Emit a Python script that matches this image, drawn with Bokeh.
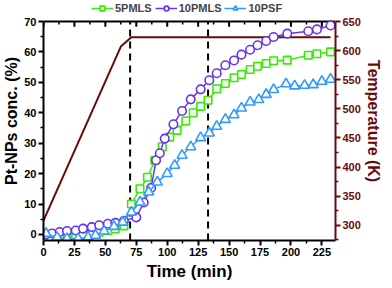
from bokeh.plotting import figure
from bokeh.models import Range1d, LinearAxis, Legend, LegendItem, FixedTicker
from bokeh.embed import file_html
from bokeh.resources import INLINE

# ---- data ----
pm5_t = [1, 6, 13, 19, 26, 32, 39, 45, 52, 58, 65, 71, 78, 84, 90, 96, 102, 108, 115, 121, 127, 133,
         140, 147, 154, 160, 167, 173, 180, 186, 197, 214, 221, 232]
pm5_v = [-1.5, -1.5, -1.2, -1.0, -0.7, -0.3, 0.2, 0.7, 1.2, 1.8, 2.8, 10.0, 15.0, 18.8, 24.3, 28.8, 32.0,
         34.2, 37.3, 40.0, 42.1, 44.1, 47.9, 49.6, 51.5, 52.6, 54.2, 55.3, 56.2, 57.1, 57.3, 58.9, 59.4, 60.0]

pm10_t = [2, 7, 13, 19, 26, 32, 39, 45, 52, 58, 65, 75, 81, 87, 91, 94, 98, 105, 112, 119, 127, 134,
          140, 147, 154, 160, 167, 173, 180, 186, 197, 214, 221, 232]
pm10_v = [0.0, 0.3, 0.8, 1.1, 1.3, 1.9, 2.4, 3.0, 3.5, 3.8, 4.5, 5.6, 10.5, 15.3, 24.4, 26.7, 31.5, 36.2,
          40.6, 44.4, 47.7, 50.7, 53.0, 55.6, 57.2, 59.1, 60.7, 62.2, 63.6, 64.9, 66.0, 66.8, 67.4, 68.7]

psf_t = [2, 11, 19, 28, 36, 42, 49, 57, 64, 71, 78, 85, 92, 100, 106, 112, 119, 127, 134, 140, 147,
         154, 160, 167, 174, 180, 186, 196, 203, 211, 218, 225, 232]
psf_v = [0.3, -1.0, -1.4, -1.4, -0.9, -0.3, 1.1, 2.6, 4.0, 7.3, 10.6, 13.9, 17.2, 20.0, 22.7, 26.0,
         28.8, 31.8, 33.3, 35.5, 37.8, 39.3, 41.5, 43.5, 44.3, 46.0, 47.6, 49.5, 48.8, 49.0, 49.2, 50.3, 51.0]

temp_t = [0, 62.5, 71, 232]
temp_K = [308, 607, 623, 623]

x_ticks = [0, 25, 50, 75, 100, 125, 150, 175, 200, 225]
y_ticks = [0, 10, 20, 30, 40, 50, 60, 70]
t_ticks = [300, 350, 400, 450, 500, 550, 600, 650]
dash_times = [70, 133]

X_MIN, X_MAX = 0, 236
Y_MIN, Y_MAX = -2, 70
T_MIN, T_MAX = 274, 650

GREEN = "#33ee00"
PURPLE = "#6633ee"
BLUE = "#3399ff"
DARKRED = "#6b0a0a"
FONT = "Liberation Sans"

W, H = 384, 284
BL, BR, BT, BB = 40, 46, 1, 44
FH = H - BT - BB
GAP = 20  # pixels reserved above the plot box for the legend
LEG_H = 13
ext = GAP * (Y_MAX - Y_MIN) / (FH - GAP)
ext_t = ext * (T_MAX - T_MIN) / (Y_MAX - Y_MIN)

p = figure(width=W, height=H, output_backend="svg", toolbar_location=None,
           x_range=Range1d(X_MIN, X_MAX), y_range=Range1d(Y_MIN, Y_MAX + ext),
           min_border_left=BL, min_border_right=BR, min_border_top=BT, min_border_bottom=BB)
p.outline_line_color = None
p.xgrid.visible = False
p.ygrid.visible = False

p.extra_y_ranges = {"temp": Range1d(T_MIN, T_MAX + ext_t)}

# top frame line with inward ticks
p.segment(x0=[X_MIN], y0=[Y_MAX], x1=[X_MAX], y1=[Y_MAX], line_color="black", line_width=2)
top_minor = [t + 12.5 for t in x_ticks]
p.segment(x0=x_ticks, y0=[Y_MAX] * len(x_ticks), x1=x_ticks, y1=[Y_MAX - 1.7] * len(x_ticks),
          line_color="black", line_width=2)
p.segment(x0=top_minor, y0=[Y_MAX] * len(top_minor), x1=top_minor, y1=[Y_MAX - 1.0] * len(top_minor),
          line_color="black", line_width=1.5)

# temperature line
p.line(temp_t, temp_K, y_range_name="temp", line_color=DARKRED, line_width=2)

# dashed markers
p.segment(x0=dash_times, y0=[Y_MIN] * len(dash_times), x1=dash_times, y1=[Y_MAX] * len(dash_times),
          line_color="black", line_width=2, line_dash="7 5")

r1l = p.line(pm5_t, pm5_v, line_color=GREEN, line_width=1.5)
r1m = p.scatter(pm5_t, pm5_v, marker="square", size=7.5, line_color=GREEN, line_width=1.6, fill_color="white")
r2l = p.line(pm10_t, pm10_v, line_color=PURPLE, line_width=1.5)
r2m = p.scatter(pm10_t, pm10_v, marker="circle", size=8.5, line_color=PURPLE, line_width=1.6, fill_color="white")
r3l = p.line(psf_t, psf_v, line_color=BLUE, line_width=1.5)
r3m = p.scatter(psf_t, psf_v, marker="triangle", size=10, line_color=BLUE, line_width=1.6, fill_color="white")

def style(ax, color="black"):
    ax.axis_line_color = color
    ax.axis_line_width = 2
    ax.major_tick_line_color = color
    ax.minor_tick_line_color = color
    ax.major_tick_line_width = 2
    ax.minor_tick_line_width = 1.5
    ax.major_tick_out = 5
    ax.major_tick_in = 0
    ax.minor_tick_out = 3
    ax.minor_tick_in = 0
    ax.major_label_standoff = 2
    ax.major_label_text_font = FONT
    ax.major_label_text_font_style = "bold"
    ax.major_label_text_font_size = "11px"
    ax.major_label_text_color = color
    ax.axis_label_text_font = FONT
    ax.axis_label_text_font_style = "bold"
    ax.axis_label_text_color = color

xa = p.xaxis[0]
xa.ticker = FixedTicker(ticks=x_ticks, minor_ticks=top_minor)
xa.axis_label = "Time (min)"
style(xa)
xa.axis_label_text_font_size = "17px"
xa.axis_label_standoff = 3

ya = p.yaxis[0]
ya.ticker = FixedTicker(ticks=y_ticks, minor_ticks=[t + 5 for t in y_ticks[:-1]] + [-5])
ya.bounds = (Y_MIN, Y_MAX)
ya.axis_label = "Pt-NPs conc. (%)"
style(ya)
ya.axis_label_text_font_size = "16px"
ya.axis_label_standoff = 1

ra = LinearAxis(y_range_name="temp", axis_label="Temperature (K)",
                ticker=FixedTicker(ticks=t_ticks, minor_ticks=[t + 25 for t in t_ticks[:-1]] + [275]))
ra.bounds = (T_MIN, T_MAX)
style(ra, DARKRED)
ra.axis_label_text_font_size = "16px"
ra.axis_label_standoff = 1
p.add_layout(ra, "right")

legend = Legend(items=[
    LegendItem(label="5PMLS", renderers=[r1l, r1m]),
    LegendItem(label="10PMLS", renderers=[r2l, r2m]),
    LegendItem(label="10PSF", renderers=[r3l, r3m]),
], orientation="horizontal", location=(48, FH - LEG_H))
legend.label_text_font = FONT
legend.label_text_font_style = "bold"
legend.label_text_font_size = "11px"
legend.border_line_color = None
legend.background_fill_alpha = 0
legend.padding = 0
legend.margin = 0
legend.spacing = 3
legend.glyph_width = 22
legend.glyph_height = 12
legend.label_standoff = 2
legend.label_height = 12
p.add_layout(legend)

open("out.html", "w").write(file_html(p, INLINE))
